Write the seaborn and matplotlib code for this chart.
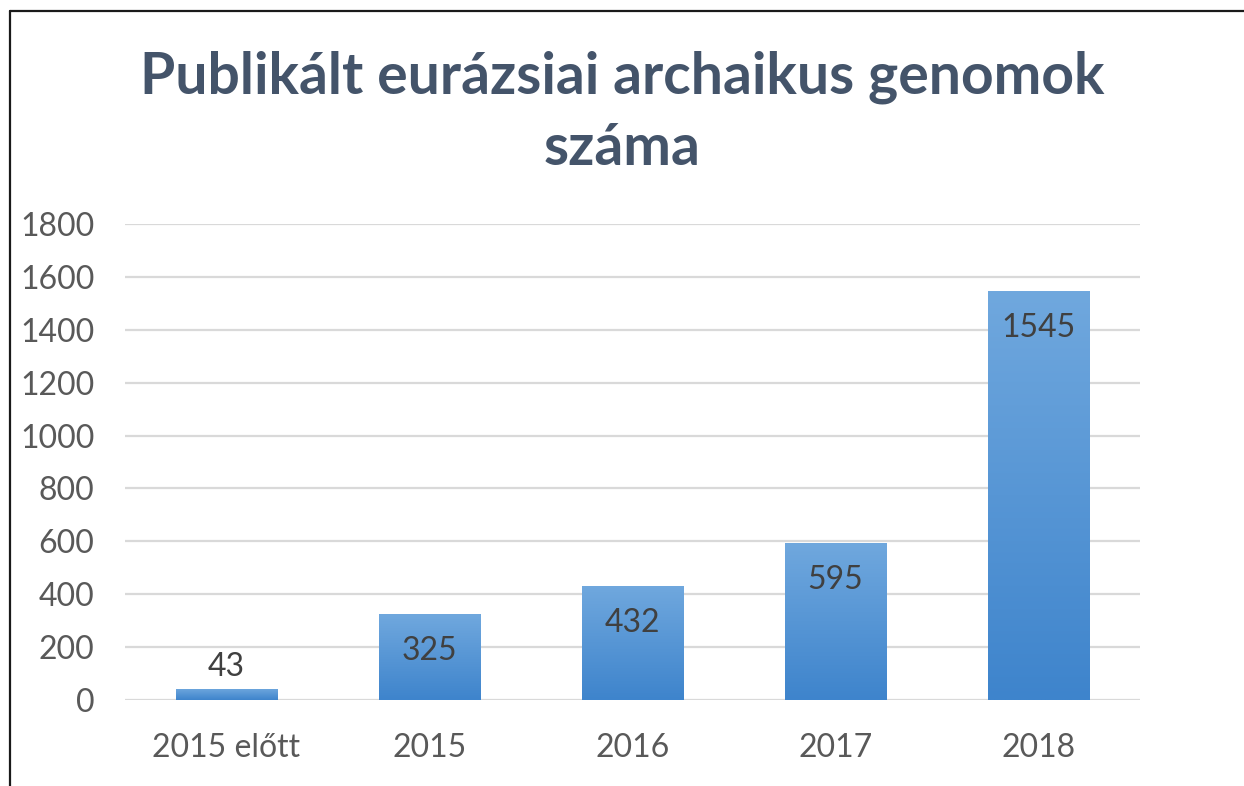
import numpy as np
import pandas as pd
import matplotlib
matplotlib.use("Agg")
import matplotlib.pyplot as plt
from matplotlib.lines import Line2D
import seaborn as sns

categories = ["2015 előtt", "2015", "2016", "2017", "2018"]
genomes = [43, 325, 432, 595, 1545]
y_ticks = [0, 200, 400, 600, 800, 1000, 1200, 1400, 1600, 1800]
title = "Publikált eurázsiai archaikus genomok\nszáma"

sns.set_theme(style="white")
plt.rcParams["font.family"] = ["Lato", "DejaVu Sans"]

df = pd.DataFrame({"kategoria": categories, "genom": genomes})

W, H = 1244, 786
fig = plt.figure(figsize=(W / 100, H / 100), dpi=100)
fig.patch.set_facecolor("white")
ax = fig.add_axes([125 / W, 1 - 700 / H, (1140 - 125) / W, (700 - 224) / H])

sns.barplot(data=df, x="kategoria", y="genom", color="#5B9BD5", width=0.5,
            ax=ax, zorder=2)

ax.set_ylim(0, 1800)
ax.set_yticks(y_ticks)
ax.set_xlim(-0.5, len(categories) - 0.5)
ax.yaxis.grid(True, color="#D9D9D9", linewidth=1.6, zorder=0)
ax.set_axisbelow(True)
for s in ax.spines.values():
    s.set_visible(False)
ax.tick_params(axis="both", length=0, labelsize=23, labelcolor="#595959")
ax.tick_params(axis="x", pad=24)
ax.tick_params(axis="y", pad=22)
ax.set_xlabel("")
ax.set_ylabel("")

# vertical gradient fill inside each bar
top_c = np.array([112, 168, 222]) / 255
bot_c = np.array([62, 132, 204]) / 255
for patch in ax.patches:
    x0, w = patch.get_x(), patch.get_width()
    h = patch.get_height()
    t = np.linspace(0, 1, 256)[:, None]
    grad = top_c * (1 - t[..., None]) + bot_c * t[..., None]
    grad = np.repeat(grad, 2, axis=1)
    im = ax.imshow(grad, extent=[x0, x0 + w, 0, h], origin="upper",
                   aspect="auto", zorder=3, interpolation="bilinear")
    im.set_clip_path(patch)
    patch.set_edgecolor("none")

ax.set_xlim(-0.5, len(categories) - 0.5)
ax.set_ylim(0, 1800)

# value labels: inside the top of tall bars, above short ones
for i, val in enumerate(genomes):
    if val < 150:
        ax.text(i, val + 80, f"{val}", ha="center", va="center",
                fontsize=23, color="#404040", zorder=5)
    else:
        ax.text(i, val - 140, f"{val}", ha="center", va="center",
                fontsize=23, color="#404040", zorder=5)

fig.text(0.5, 1 - 113 / H, title, ha="center", va="center",
         fontsize=41, fontweight="bold", color="#44546A", linespacing=1.42)

# frame lines on the left and top edges
fig.add_artist(Line2D([10 / W, 10 / W], [0, 1 - 11 / H], color="#1a1a1a",
                      linewidth=1.6, transform=fig.transFigure))
fig.add_artist(Line2D([10 / W, 1], [1 - 11 / H, 1 - 11 / H], color="#1a1a1a",
                      linewidth=1.6, transform=fig.transFigure))

fig.savefig("out.png", dpi=100, facecolor="white")
